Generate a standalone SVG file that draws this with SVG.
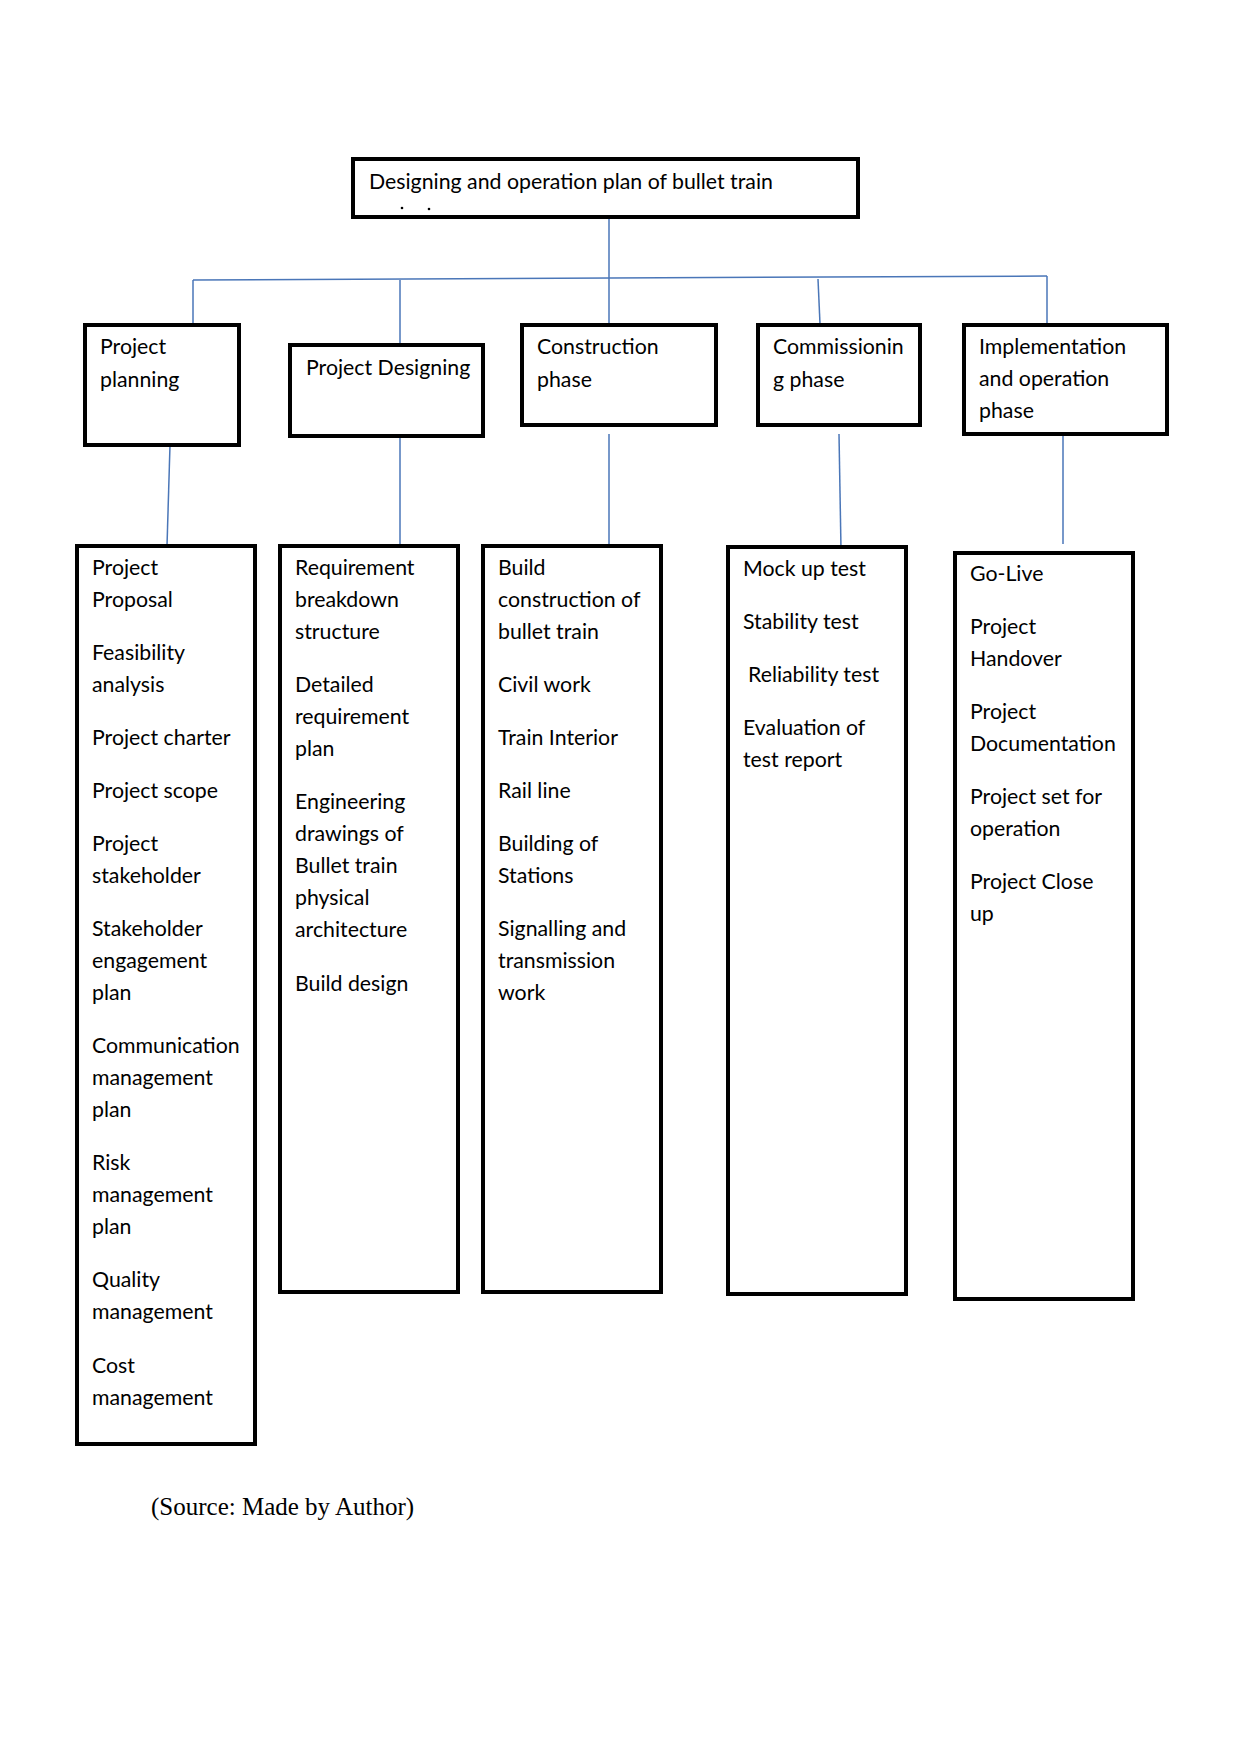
<svg xmlns="http://www.w3.org/2000/svg" width="1241" height="1754" viewBox="0 0 1241 1754">
<style>
.box{fill:#ffffff;stroke:#000000;stroke-width:4}
.t{font-family:Lato,"Liberation Sans",sans-serif;font-size:21.3px;fill:#000000}
.src{font-family:"Liberation Serif",serif;font-size:25px;fill:#000000}
.c{fill:none;stroke:#4a76b8;stroke-width:1.5}
</style>
<rect width="1241" height="1754" fill="#ffffff"/>
<g id="connectors">
<line class="c" x1="609" y1="217" x2="609" y2="324"/>
<line class="c" x1="193" y1="280" x2="1047" y2="276"/>
<line class="c" x1="193" y1="280" x2="193" y2="324"/>
<line class="c" x1="400" y1="280" x2="400" y2="345"/>
<line class="c" x1="818" y1="279" x2="820" y2="324"/>
<line class="c" x1="1047" y1="276" x2="1047" y2="324"/>
<line class="c" x1="170" y1="445" x2="167" y2="546"/>
<line class="c" x1="400" y1="436" x2="400" y2="545"/>
<line class="c" x1="609" y1="434" x2="609" y2="551"/>
<line class="c" x1="839" y1="434" x2="841" y2="549"/>
<line class="c" x1="1063" y1="436" x2="1063" y2="544"/>
</g>
<g id="root">
<rect class="box" x="353" y="159" width="505" height="58"/>
<text class="t" x="369" y="189">Designing and operation plan of bullet train</text>
<circle cx="402" cy="208" r="1.3" fill="#000"/>
<circle cx="429" cy="209" r="1.3" fill="#000"/>
</g>
<g id="planning">
<rect class="box" x="85" y="325" width="154" height="120"/>
<text class="t" x="100" y="354">Project</text>
<text class="t" x="100" y="387">planning</text>
</g>
<g id="designing">
<rect class="box" x="290" y="345" width="193" height="91"/>
<text class="t" x="306" y="375">Project Designing</text>
</g>
<g id="construction">
<rect class="box" x="522" y="325" width="194" height="100"/>
<text class="t" x="537" y="354">Construction</text>
<text class="t" x="537" y="387">phase</text>
</g>
<g id="commissioning">
<rect class="box" x="758" y="325" width="162" height="100"/>
<text class="t" x="773" y="354">Commissionin</text>
<text class="t" x="773" y="387">g phase</text>
</g>
<g id="implementation">
<rect class="box" x="964" y="325" width="203" height="109"/>
<text class="t" x="979" y="354">Implementation</text>
<text class="t" x="979" y="386">and operation</text>
<text class="t" x="979" y="418">phase</text>
</g>
<g id="list-planning">
<rect class="box" x="77" y="546" width="178" height="898"/>
<text class="t" x="92" y="575">Project</text>
<text class="t" x="92" y="607">Proposal</text>
<text class="t" x="92" y="660">Feasibility</text>
<text class="t" x="92" y="692">analysis</text>
<text class="t" x="92" y="745">Project charter</text>
<text class="t" x="92" y="798">Project scope</text>
<text class="t" x="92" y="851">Project</text>
<text class="t" x="92" y="883">stakeholder</text>
<text class="t" x="92" y="936">Stakeholder</text>
<text class="t" x="92" y="968">engagement</text>
<text class="t" x="92" y="1000">plan</text>
<text class="t" x="92" y="1053">Communication</text>
<text class="t" x="92" y="1085">management</text>
<text class="t" x="92" y="1117">plan</text>
<text class="t" x="92" y="1170">Risk</text>
<text class="t" x="92" y="1202">management</text>
<text class="t" x="92" y="1234">plan</text>
<text class="t" x="92" y="1287">Quality</text>
<text class="t" x="92" y="1319">management</text>
<text class="t" x="92" y="1373">Cost</text>
<text class="t" x="92" y="1405">management</text>
</g>
<g id="list-designing">
<rect class="box" x="280" y="546" width="178" height="746"/>
<text class="t" x="295" y="575">Requirement</text>
<text class="t" x="295" y="607">breakdown</text>
<text class="t" x="295" y="639">structure</text>
<text class="t" x="295" y="692">Detailed</text>
<text class="t" x="295" y="724">requirement</text>
<text class="t" x="295" y="756">plan</text>
<text class="t" x="295" y="809">Engineering</text>
<text class="t" x="295" y="841">drawings of</text>
<text class="t" x="295" y="873">Bullet train</text>
<text class="t" x="295" y="905">physical</text>
<text class="t" x="295" y="937">architecture</text>
<text class="t" x="295" y="991">Build design</text>
</g>
<g id="list-construction">
<rect class="box" x="483" y="546" width="178" height="746"/>
<text class="t" x="498" y="575">Build</text>
<text class="t" x="498" y="607">construction of</text>
<text class="t" x="498" y="639">bullet train</text>
<text class="t" x="498" y="692">Civil work</text>
<text class="t" x="498" y="745">Train Interior</text>
<text class="t" x="498" y="798">Rail line</text>
<text class="t" x="498" y="851">Building of</text>
<text class="t" x="498" y="883">Stations</text>
<text class="t" x="498" y="936">Signalling and</text>
<text class="t" x="498" y="968">transmission</text>
<text class="t" x="498" y="1000">work</text>
</g>
<g id="list-commissioning">
<rect class="box" x="728" y="547" width="178" height="747"/>
<text class="t" x="743" y="576">Mock up test</text>
<text class="t" x="743" y="629">Stability test</text>
<text class="t" x="748" y="682">Reliability test</text>
<text class="t" x="743" y="735">Evaluation of</text>
<text class="t" x="743" y="767">test report</text>
</g>
<g id="list-implementation">
<rect class="box" x="955" y="553" width="178" height="746"/>
<text class="t" x="970" y="581">Go-Live</text>
<text class="t" x="970" y="634">Project</text>
<text class="t" x="970" y="666">Handover</text>
<text class="t" x="970" y="719">Project</text>
<text class="t" x="970" y="751">Documentation</text>
<text class="t" x="970" y="804">Project set for</text>
<text class="t" x="970" y="836">operation</text>
<text class="t" x="970" y="889">Project Close</text>
<text class="t" x="970" y="921">up</text>
</g>
<text class="src" x="151" y="1515">(Source: Made by Author)</text>
</svg>
